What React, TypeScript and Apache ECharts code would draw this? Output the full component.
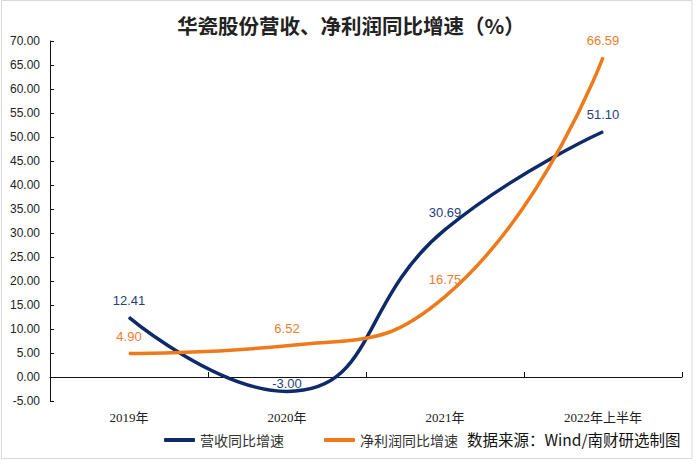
import React, { useEffect, useRef } from "react";
import * as echarts from "echarts";

const categories = ["2019年", "2020年", "2021年", "2022年上半年"];
const revenueGrowth = [12.41, -3.0, 30.69, 51.1];
const profitGrowth = [4.9, 6.52, 16.75, 66.59];
const seriesNames = ["营收同比增速", "净利润同比增速"];
const titleText = "华瓷股份营收、净利润同比增速（%）";
const sourceText = "数据来源：Wind/南财研选制图";

const BLUE = "#0e2a6b";
const ORANGE = "#ee7a1c";
const SANS = "'Liberation Sans', 'Noto Sans CJK SC', sans-serif";

export default function App() {
  const ref = useRef<HTMLDivElement>(null);
  useEffect(() => {
    if (!ref.current) return;
    const chart = echarts.init(ref.current, null, { renderer: "svg" });
    const revenueData = revenueGrowth.map((v) =>
      v < 0 ? { value: v, label: { distance: 1 } } : v
    );
    chart.setOption({
      animation: false,
      backgroundColor: "#ffffff",
      title: {
        text: titleText,
        left: 346,
        textAlign: "center",
        top: 10,
        textStyle: { fontSize: 20.5, fontWeight: "bold", color: "#222", fontFamily: "'Noto Sans CJK SC', sans-serif" },
      },
      graphic: [
        {
          type: "rect",
          shape: { x: 1.5, y: 0.5, width: 690.5, height: 458 },
          style: { fill: "none", stroke: "#d9d9d9", lineWidth: 1 },
          silent: true,
        },
        {
          type: "text",
          left: 467,
          top: 431,
          style: { text: sourceText, fontSize: 15.5, fill: "#111", fontFamily: "'Noto Sans CJK SC', sans-serif" },
        },
      ],
      legend: {
        left: 159,
        top: 428,
        itemWidth: 31,
        itemHeight: 4,
        itemGap: 40,
        icon: "roundRect",
        data: seriesNames,
        textStyle: { fontSize: 14, color: "#333", fontFamily: "'Noto Sans CJK SC', sans-serif" },
      },
      grid: { left: 50, right: 18, top: 41, bottom: 65, containLabel: false },
      xAxis: [
        {
          type: "category",
          data: categories,
          boundaryGap: true,
          axisLine: { onZero: true, lineStyle: { color: "#111", width: 1 } },
          axisTick: { show: true, inside: true, length: 5, lineStyle: { color: "#111" } },
          axisLabel: { show: false },
        },
        {
          type: "category",
          data: categories,
          position: "bottom",
          boundaryGap: true,
          axisLine: { show: false, onZero: false },
          axisTick: { show: false },
          axisLabel: { show: true, margin: 10, fontSize: 13, color: "#222", fontFamily: "'Liberation Serif', 'Noto Sans CJK SC', serif" },
        },
      ],
      yAxis: {
        type: "value",
        min: -5,
        max: 70,
        interval: 5,
        splitLine: { show: false },
        axisLine: { show: true, lineStyle: { color: "#111", width: 1 } },
        axisTick: { show: true, inside: true, length: 4, lineStyle: { color: "#111" } },
        axisLabel: {
          margin: 10,
          fontSize: 12,
          color: "#222",
          fontFamily: SANS,
          formatter: (v: number) => v.toFixed(2),
        },
      },
      series: [
        {
          name: seriesNames[0],
          type: "line",
          xAxisIndex: 0,
          data: revenueData,
          smooth: 0.5,
          symbol: "circle",
          symbolSize: 1,
          showSymbol: true,
          lineStyle: { color: BLUE, width: 3.5 },
          itemStyle: { color: BLUE },
          label: {
            show: true,
            position: "top",
            distance: 10,
            color: "#1f3f80",
            fontSize: 13,
            fontFamily: SANS,
            formatter: (p: any) => Number(p.value).toFixed(2),
          },
        },
        {
          name: seriesNames[1],
          type: "line",
          xAxisIndex: 0,
          data: profitGrowth,
          smooth: 0.5,
          symbol: "circle",
          symbolSize: 1,
          showSymbol: true,
          lineStyle: { color: ORANGE, width: 3.5 },
          itemStyle: { color: ORANGE },
          label: {
            show: true,
            position: "top",
            distance: 10,
            color: "#ed7d31",
            fontSize: 13,
            fontFamily: SANS,
            formatter: (p: any) => Number(p.value).toFixed(2),
          },
        },
      ],
    });
    return () => chart.dispose();
  }, []);
  return (
    <div
      ref={ref}
      style={{ position: "absolute", left: 0, top: 0, width: 700, height: 466 }}
    />
  );
}
